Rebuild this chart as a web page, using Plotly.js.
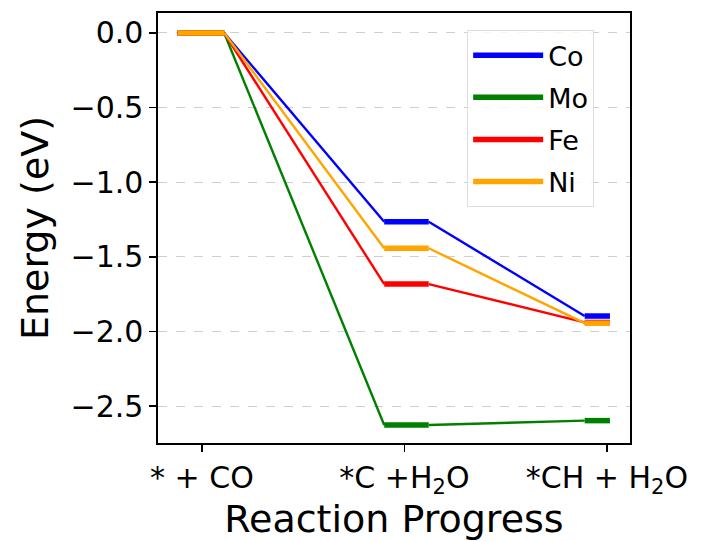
<!DOCTYPE html>
<html>
<head>
<meta charset="utf-8">
<script src="https://cdn.plot.ly/plotly-3.0.1.min.js"></script>
<style>html,body{margin:0;padding:0;background:#fff;}#chart{width:708px;height:541px;}</style>
</head>
<body>
<div id="chart"></div>
<script>
// ---- data ----
const states = ["* + CO", "*C +H<sub>2</sub>O", "*CH + H<sub>2</sub>O"];
const metals = ["Co", "Mo", "Fe", "Ni"];
const energyCo = [0.0, -1.265, -1.897];
const energyMo = [0.0, -2.627, -2.598];
const energyFe = [0.0, -1.683, -1.940];
const energyNi = [0.0, -1.443, -1.945];
const yTicks = [0.0, -0.5, -1.0, -1.5, -2.0, -2.5];

// ---- styling ----
const colors = {Co: "#0000ff", Mo: "#008000", Fe: "#ff0000", Ni: "#ffa500"};
const series = {Co: energyCo, Mo: energyMo, Fe: energyFe, Ni: energyNi};
const levelLeft = [-0.12, -0.10, -0.11];   // level bar start offset from state position
const levelRight = [0.11, 0.12, 0.015];    // level bar end offset from state position

const traces = [];
metals.forEach(function (m, k) {
  const e = series[m];
  const cx = [], cy = [], bx = [], by = [];
  for (let i = 0; i < e.length; i++) {
    bx.push(i + levelLeft[i], i + levelRight[i], null);
    by.push(e[i], e[i], null);
    if (i < e.length - 1) {
      cx.push(i + levelRight[i], (i + 1) + levelLeft[i + 1], null);
      cy.push(e[i], e[i + 1], null);
    }
  }
  traces.push({x: cx, y: cy, mode: "lines", type: "scatter", showlegend: false,
    legendgroup: m, line: {color: colors[m], width: 2.4}, hoverinfo: "skip"});
  traces.push({x: bx, y: by, mode: "lines", type: "scatter", name: m,
    legendgroup: m, line: {color: colors[m], width: 5.5}});
});

const layout = {
  width: 708, height: 541,
  margin: {l: 158, r: 78, t: 13, b: 98},
  paper_bgcolor: "#ffffff", plot_bgcolor: "#ffffff",
  font: {family: "DejaVu Sans", color: "#000000", size: 30},
  xaxis: {
    range: [-0.217, 2.114],
    tickvals: [0, 1, 2], ticktext: states,
    showgrid: false, zeroline: false,
    showline: true, mirror: true, linecolor: "#000000", linewidth: 1.6,
    ticks: "outside", ticklen: 7, tickwidth: 1.5, tickcolor: "#000000",
    tickfont: {size: 30},
    title: {text: "Reaction Progress", font: {size: 38}, standoff: 9}
  },
  yaxis: {
    range: [-2.748, 0.134],
    tickvals: yTicks, tickformat: ".1f",
    showgrid: true, gridcolor: "#cfcfcf", griddash: "dash", gridwidth: 1,
    zeroline: false,
    showline: true, mirror: true, linecolor: "#000000", linewidth: 1.6,
    ticks: "outside", ticklen: 7, tickwidth: 1.5, tickcolor: "#000000",
    tickfont: {size: 30},
    title: {text: "Energy (eV)", font: {size: 38}, standoff: 10}
  },
  legend: {
    x: 0.655, y: 0.96, xanchor: "left", yanchor: "top",
    bgcolor: "rgba(255,255,255,0.8)", bordercolor: "#dddddd", borderwidth: 1,
    font: {size: 27}, traceorder: "grouped", tracegroupgap: 4, itemwidth: 70
  },
  showlegend: true
};

Plotly.newPlot("chart", traces, layout, {displayModeBar: false, staticPlot: true});
</script>
</body>
</html>
